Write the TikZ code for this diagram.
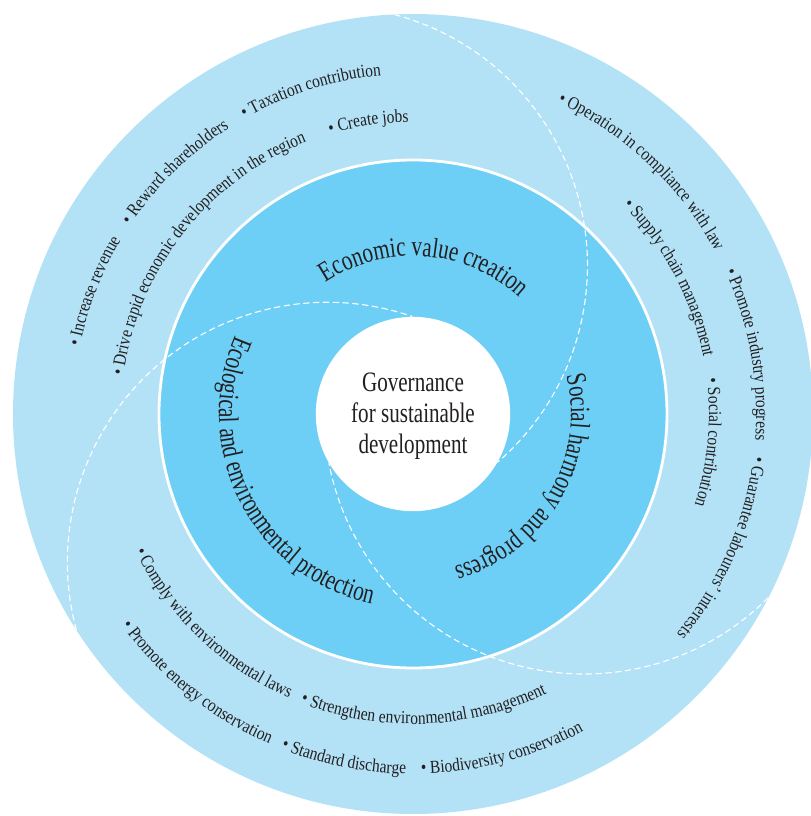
\documentclass[tikz,border=0pt]{standalone}
\usepackage{fontspec}
\setmainfont{Liberation Serif}
\newfontfamily\ringfont[FakeStretch=0.75]{Liberation Serif}
\newfontfamily\itemfont[FakeStretch=0.85]{Liberation Serif}
\usetikzlibrary{decorations.text}
\definecolor{ringlight}{RGB}{179,226,247}
\definecolor{ringmid}{RGB}{109,207,246}
\definecolor{ink}{RGB}{35,31,32}
\newcommand{\ringsize}{\color{ink}\ringfont\fontsize{20}{22}\selectfont}
\newcommand{\itemsize}{\color{ink}\itemfont\fontsize{13}{15}\selectfont}

\begin{document}
\begin{tikzpicture}[line join = round, line cap = round,
    dashline/.style = {white, line width=0.8pt, dash pattern=on 4pt off 3pt},
    ringlabel/.style = {decorate, decoration={text along path, text align=center, text={|\ringsize|#1}}}]
\useasboundingbox (-10.325,-10.05) rectangle (9.95,10.35);
\clip (-10.325,-10.05) rectangle (9.95,10.35);
\coordinate (O) at (0,0);

% rings
\fill[ringlight] (O) circle[radius=10];
\filldraw[fill=ringmid, draw=white, line width=2pt] (O) circle[radius=6.35];

% overlapping dashed circles, one per pillar
\foreach \a in {0,120,240}
    \draw[dashline] (\a:4.28) ++(\a-45:6.5) arc[start angle=\a-45, end angle=\a-169, radius=6.5];

\fill[white] (O) circle[radius=2.43];
\node[align=center, font=\ringsize] (hub) at (0,-0.05) {Governance\\for sustainable\\development};

% pillar names
\path[ringlabel={Economic value creation}] (140:3.95) arc[start angle=140, end angle=31, radius=3.95];
\path[ringlabel={Social harmony and progress}] (25:3.95) arc[start angle=25, end angle=-86, radius=3.95];
\path[ringlabel={Ecological and environmental protection}] (145:4.85) arc[start angle=145, end angle=269, radius=4.85];

% items, read clockwise
\foreach \r/\a/\t in {8.5/168.5/• Increase revenue, 8.5/146.3/• Reward shareholders,
        8.5/119.7/• Taxation contribution, 7.3/172.5/• Drive rapid economic development in the region,
        7.3/106.5/• Create jobs, 8.58/65.1/• Operation in compliance with law,
        8.58/24.6/• Promote industry progress, 8.58/-7.1/• Guarantee labourers’ interests,
        7.4/44.8/• Supply chain management, 7.4/6.9/• Social contribution}
    \path[decorate, decoration={text along path, text/.expanded={|\noexpand\itemsize|\t}}]
        (\a:\r) arc[start angle=\a, end angle=\a-80, radius=\r];

% items, read counterclockwise
\foreach \r/\a/\t in {7.75/206.3/• Comply with environmental laws, 7.75/248.7/• Strengthen environmental management,
        9.0/216/• Promote energy conservation, 9.0/248.5/• Standard discharge,
        9.0/271.3/• Biodiversity conservation}
    \path[decorate, decoration={text along path, text/.expanded={|\noexpand\itemsize|\t}}]
        (\a:\r) arc[start angle=\a, end angle=\a+80, radius=\r];
\end{tikzpicture}
\end{document}
